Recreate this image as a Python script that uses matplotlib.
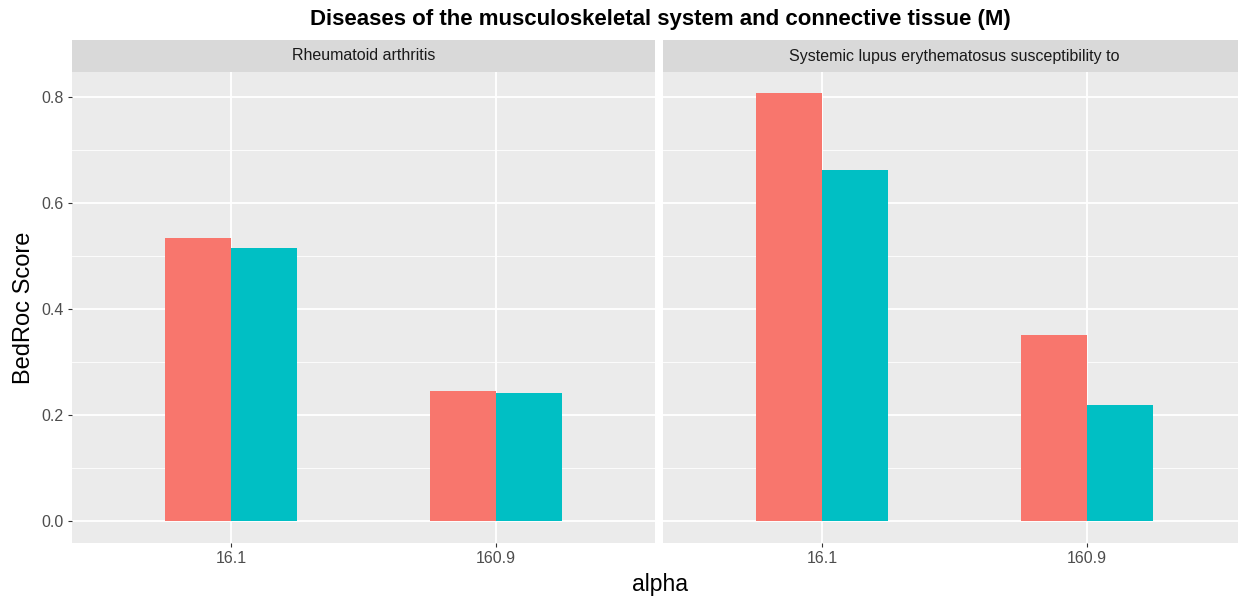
import numpy as np
import matplotlib.pyplot as plt

# data
facets = ["Rheumatoid arthritis", "Systemic lupus erythematosus susceptibility to"]
alphas = ["16.1", "160.9"]
series_a = [[0.534, 0.245], [0.808, 0.351]]
series_b = [[0.515, 0.242], [0.662, 0.219]]
colors = ["#F8766D", "#00BFC4"]

plt.rcParams['font.family'] = ['Liberation Sans', 'DejaVu Sans']

fig = plt.figure(figsize=(12.38, 6.05), dpi=100)
W, H = 1238, 605

def px_axes(x0, y0, x1, y1):
    return fig.add_axes([x0 / W, 1 - y1 / H, (x1 - x0) / W, (y1 - y0) / H])

x = np.arange(1, len(alphas) + 1)
bw = 0.25
ymin, ymax = -0.0415, 0.847

panel_l = [72, 663]
pw = 583
top, bottom = 72, 543

for i, name in enumerate(facets):
    ax = px_axes(panel_l[i], top, panel_l[i] + pw, bottom)
    ax.set_facecolor("#EBEBEB")
    ax.set_xlim(0.4, 2.6)
    ax.set_ylim(ymin, ymax)
    ax.set_axisbelow(True)
    for yv in [0.1, 0.3, 0.5, 0.7]:
        ax.axhline(yv, color="white", lw=0.6, zorder=0)
    ax.grid(True, color="white", lw=1.3, zorder=0)
    ax.bar(x - bw / 2, series_a[i], width=bw, color=colors[0], zorder=2)
    ax.bar(x + bw / 2, series_b[i], width=bw, color=colors[1], zorder=2)
    ax.set_xticks(x)
    ax.set_xticklabels(alphas)
    ax.set_yticks([0.0, 0.2, 0.4, 0.6, 0.8])
    ax.set_yticklabels(["0.0", "0.2", "0.4", "0.6", "0.8"])
    ax.tick_params(colors="#333333", labelcolor="#4D4D4D", labelsize=11.5, length=3, width=0.8, pad=3)
    for s in ax.spines.values():
        s.set_visible(False)
    if i > 0:
        ax.tick_params(axis="y", left=False, labelleft=False)
    # strip
    st = px_axes(panel_l[i], 40, panel_l[i] + pw, 72)
    st.set_facecolor("#D9D9D9")
    st.set_xticks([])
    st.set_yticks([])
    for s in st.spines.values():
        s.set_visible(False)
    st.text(0.5, 0.5, name, ha="center", va="center", fontsize=11.5, color="#1A1A1A",
            transform=st.transAxes)

fig.text(660 / W, 1 - 20 / H, "Diseases of the musculoskeletal system and connective tissue (M)",
         ha="center", va="center", fontsize=16, fontweight="bold")
fig.text(660 / W, 1 - 585 / H, "alpha", ha="center", va="center", fontsize=16.5)
fig.text(24 / W, 1 - 308 / H, "BedRoc Score", ha="center", va="center", fontsize=17, rotation=90)

fig.savefig("out.png", dpi=100)
